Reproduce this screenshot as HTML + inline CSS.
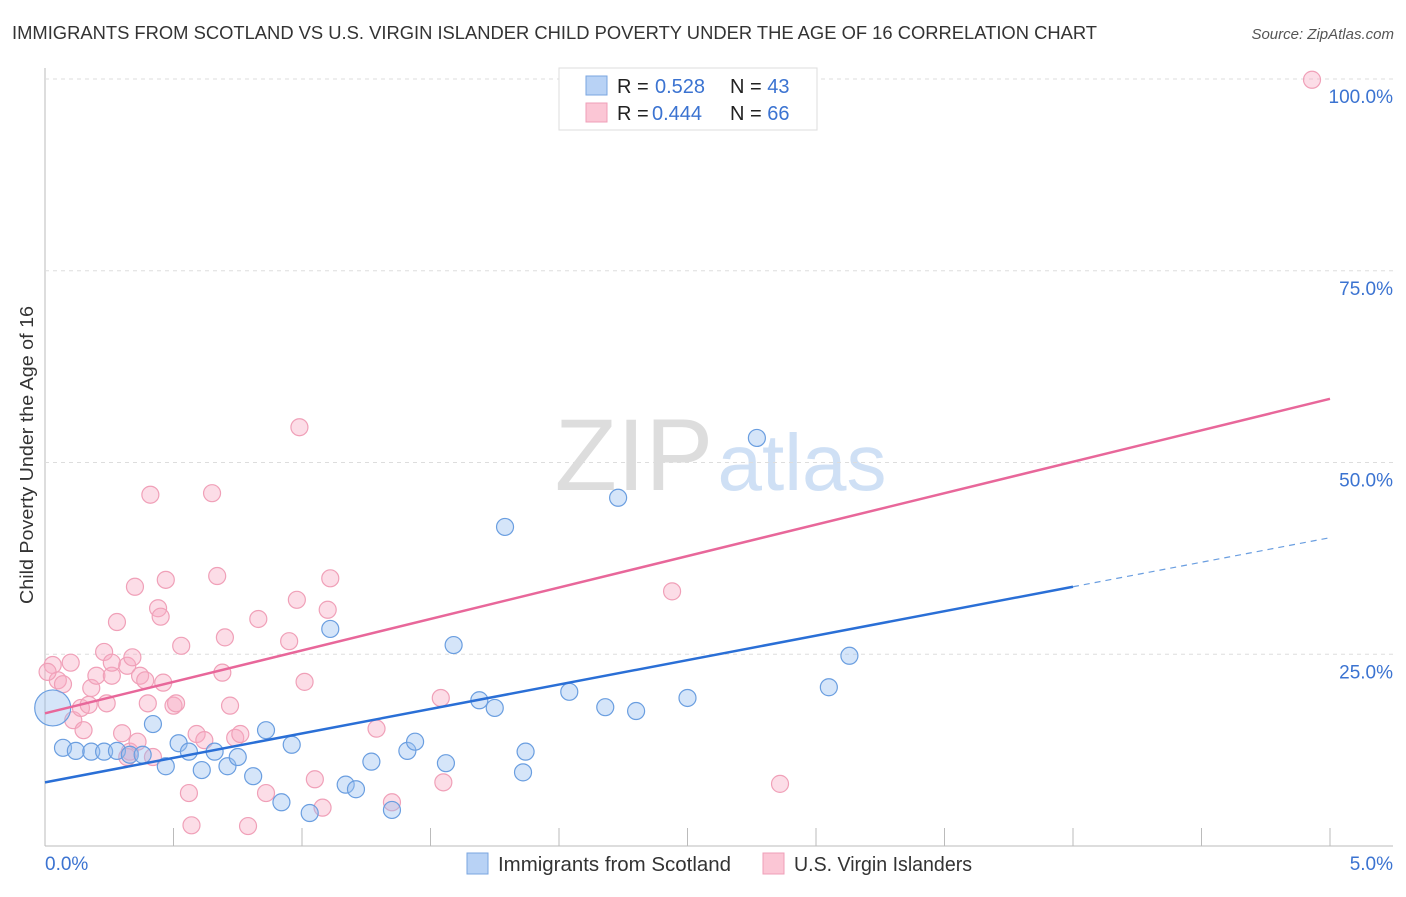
<!DOCTYPE html>
<html><head><meta charset="utf-8"><style>
body{margin:0;background:#fff;font-family:"Liberation Sans",sans-serif}
svg text{font-family:"Liberation Sans",sans-serif}
</style></head><body>
<svg id="chart" width="1406" height="892" xmlns="http://www.w3.org/2000/svg">
<text x="12" y="39" font-size="18.4" fill="#333" textLength="1085" lengthAdjust="spacingAndGlyphs">IMMIGRANTS FROM SCOTLAND VS U.S. VIRGIN ISLANDER CHILD POVERTY UNDER THE AGE OF 16 CORRELATION CHART</text>
<text x="1394" y="39" font-size="15" fill="#555" text-anchor="end" font-style="italic">Source: ZipAtlas.com</text>
<text transform="translate(33,455) rotate(-90)" font-size="18" fill="#333" text-anchor="middle" textLength="298" lengthAdjust="spacingAndGlyphs">Child Poverty Under the Age of 16</text>
<g><text x="634" y="490" font-size="102" fill="#ddd" text-anchor="middle" font-family="Liberation Serif">ZIP</text><text x="802" y="490" font-size="80" fill="#cfe0f5" text-anchor="middle">atlas</text></g>
<g id="grid"></g><g id="marks"></g>
<g>
<rect x="559" y="68" width="258" height="62" fill="#fff" stroke="#ddd"/>
<rect x="586" y="76" width="21" height="19" fill="#b8d2f5" stroke="#7aa6e0"/>
<rect x="586" y="103" width="21" height="19" fill="#fbc6d5" stroke="#ef9fb8"/>
<text x="617" y="93" font-size="20" fill="#222">R = <tspan x="655" fill="#3b73d1">0.528</tspan><tspan x="730">N = </tspan><tspan fill="#3b73d1">43</tspan></text>
<text x="617" y="120" font-size="20" fill="#222">R = <tspan x="652" fill="#3b73d1">0.444</tspan><tspan x="730">N = </tspan><tspan fill="#3b73d1">66</tspan></text>
</g>
<g>
<rect x="467" y="853" width="21" height="21" fill="#b8d2f5" stroke="#7aa6e0"/>
<text x="498" y="871" font-size="20" fill="#333" textLength="233" lengthAdjust="spacingAndGlyphs">Immigrants from Scotland</text>
<rect x="763" y="853" width="21" height="21" fill="#fbc6d5" stroke="#ef9fb8"/>
<text x="794" y="871" font-size="20" fill="#333" textLength="178" lengthAdjust="spacingAndGlyphs">U.S. Virgin Islanders</text>
</g>
</svg>
<script>
const yTicks=[25,50,75,100];
const yTickLabels=["25.0%","50.0%","75.0%","100.0%"];
const xTickLabels=["0.0%","5.0%"];
const blueX=[.03,.07,.12,.18,.23,.28,.33,.38,.42,.47,.52,.56,.61,.66,.71,.75,.81,.86,.92,.96,1.03,1.11,1.17,1.21,1.27,1.35,1.41,1.44,1.56,1.59,1.69,1.75,1.79,1.86,1.87,2.04,2.18,2.23,2.30,2.50,2.77,3.05,3.13];
const blueY=[18.0,12.8,12.4,12.3,12.3,12.4,11.9,11.9,15.9,10.4,13.4,12.3,9.9,12.3,10.4,11.6,9.1,15.1,5.7,13.2,4.3,28.3,8.0,7.4,11.0,4.7,12.4,13.6,10.8,26.2,19.0,18.0,41.6,9.6,12.3,20.1,18.1,45.4,17.6,19.3,53.2,20.7,24.8];
const pinkX=[.03,.05,.10,.07,.11,.14,.17,.18,.20,.23,.24,.26,.28,.26,.30,.32,.33,.34,.35,.37,.39,.40,.41,.44,.45,.46,.47,.50,.51,.53,.56,.57,.59,.62,.65,.67,.69,.70,.72,.74,.76,.79,.83,.86,.95,.98,.99,1.01,1.05,1.08,1.10,1.11,1.29,1.35,1.54,1.55,2.44,2.86,4.93,.15,.42,.32,.01,.36];
const pinkY=[23.6,21.6,23.9,21.1,16.4,18.0,18.4,20.6,22.2,25.3,18.6,22.2,29.2,23.9,14.7,23.5,12.3,24.6,33.8,22.2,21.6,18.6,45.8,31.0,29.9,21.3,34.7,18.3,18.6,26.1,6.9,2.7,14.6,13.8,46.0,35.2,22.6,27.2,18.3,14.1,14.6,2.6,29.6,6.9,26.7,32.1,54.6,21.4,8.7,5.0,30.8,34.9,15.3,5.7,19.3,8.3,33.2,8.1,99.9,15.1,11.6,11.6,22.7,13.6];
const blueLine=[8.3,33.8,40.2]; // at x=0, 4, 5
const pinkLine=[17.3,58.3]; // at x=0, 5
const NS="http://www.w3.org/2000/svg";
const X=v=>45+v*257, Y=v=>846-v*7.67;
const grid=document.getElementById('grid'), marks=document.getElementById('marks');
function mk(tag,at,parent){const e=document.createElementNS(NS,tag);for(const k in at)e.setAttribute(k,at[k]);parent.appendChild(e);return e;}
let ax=mk('line',{x1:45,y1:68,x2:45,y2:846,stroke:'#bbb'},grid);


let bx=mk('line',{x1:45,y1:846,x2:1393,y2:846,stroke:'#bbb'},grid);


yTicks.forEach((t,i)=>{
 const g=mk('line',{x1:45,y1:Y(t),x2:1393,y2:Y(t),stroke:'#ddd','stroke-dasharray':'4,4'},grid);
 
 
 const tx=mk('text',{x:1393,y:Y(t)+24,'font-size':19,fill:'#3b73d1','text-anchor':'end'},grid);
 tx.textContent=yTickLabels[i];
 
 
});
for(let i=1;i<=10;i++){
 const tk=mk('line',{x1:X(i*0.5),y1:828,x2:X(i*0.5),y2:846,stroke:'#bbb'},grid);
 
 
}
[[0,'start',45],[5,'end',1393]].forEach((d,i)=>{
 const tx=mk('text',{x:d[2],y:870,'font-size':19,fill:'#3b73d1','text-anchor':d[1]},grid);
 tx.textContent=xTickLabels[i];
 
 
});
pinkX.forEach((x,i)=>{
 const c=mk('circle',{cx:X(x),cy:Y(pinkY[i]),r:8.5,fill:'rgba(248,170,195,0.4)',stroke:'#f0a0b8','stroke-width':1.2},marks);
 
 
});
blueX.forEach((x,i)=>{
 const c=mk('circle',{cx:X(x),cy:Y(blueY[i]),r:i==0?18:8.5,fill:'rgba(150,190,240,0.4)',stroke:'#6a9ee0','stroke-width':1.2},marks);
 
 
});
let pl=mk('line',{x1:X(0),y1:Y(pinkLine[0]),x2:X(5),y2:Y(pinkLine[1]),stroke:'#e8679a','stroke-width':2.5},marks);


let bl=mk('line',{x1:X(0),y1:Y(blueLine[0]),x2:X(4),y2:Y(blueLine[1]),stroke:'#2a6fd6','stroke-width':2.5},marks);


let bd=mk('line',{x1:X(4),y1:Y(blueLine[1]),x2:X(5),y2:Y(blueLine[2]),stroke:'#6a9ee0','stroke-width':1.2,'stroke-dasharray':'6,5'},marks);


</script>
</body></html>
